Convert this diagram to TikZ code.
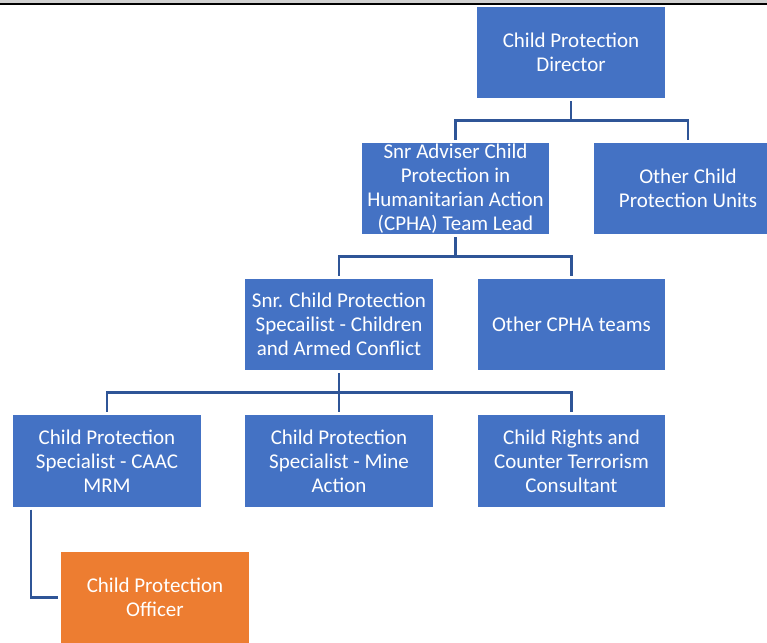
\documentclass[tikz,border=0pt]{standalone}
\usepackage{fontspec}
\setmainfont{Carlito}
\usepackage{tikz}
\usetikzlibrary{shapes}

\begin{document}
\begin{tikzpicture}[join=miter,
  box/.style={draw=white,line width=1.2bp,fill=c1,text=white,
    minimum width=189bp,minimum height=93bp,inner sep=0pt,align=center,
    font=\fontsize{21bp}{24bp}\selectfont},
  link/.style={draw=c3,line width=2.2bp,shorten >=1.5bp,shorten <=1.5bp}]
%%
%%
\definecolor{c1}{HTML}{4472C4}%
\definecolor{c2}{HTML}{ED7D31}%
\definecolor{c3}{HTML}{2F5597}%
\definecolor{c4}{HTML}{D0D0D0}%
%
\useasboundingbox (0bp,0bp) rectangle (767bp,643bp);
\begin{scope}
  \fill[c4] (0bp,640bp) rectangle (767bp,643bp);
  \fill[black] (0bp,637.5bp) rectangle (767bp,640bp);
\end{scope}
  \node (dir) at (571bp,590.5bp) [box] {Child Protection\\Director};
  \node (snr) at (455.5bp,454.5bp) [box] {Snr Adviser Child\\Protection in\\Humanitarian Action\\(CPHA) Team Lead};
  \node (ocpu) at (688bp,454.5bp) [box] {Other Child\\Protection Units};
  \node (caac) at (339bp,318.5bp) [box] {Snr. Child Protection\\Specailist - Children\\and Armed Conflict};
  \node (ocpha) at (571.5bp,318.5bp) [box] {Other CPHA teams};
  \node (mrm) at (107bp,182bp) [box] {Child Protection\\Specialist - CAAC\\MRM};
  \node (mine) at (339bp,182bp) [box] {Child Protection\\Specialist - Mine\\Action};
  \node (ct) at (571.5bp,182bp) [box] {Child Rights and\\Counter Terrorism\\Consultant};
  \node (off) at (155bp,45.5bp) [box,fill=c2] {Child Protection\\Officer};

  \draw[link] (dir.south) -- ++(0bp,-21bp) -| (snr.north);
  \draw[link] (dir.south) -- ++(0bp,-21bp) -| (ocpu.north);
  \draw[link] (snr.south) -- ++(0bp,-21bp) -| (caac.north);
  \draw[link] (snr.south) -- ++(0bp,-21bp) -| (ocpha.north);
  \draw[link] (caac.south) -- ++(0bp,-21bp) -| (mrm.north);
  \draw[link] (caac.south) -- (mine.north);
  \draw[link] (caac.south) -- ++(0bp,-21bp) -| (ct.north);
  \draw[link] ([xshift=19bp]mrm.south west) |- (off.west);
%
\end{tikzpicture}
\end{document}
